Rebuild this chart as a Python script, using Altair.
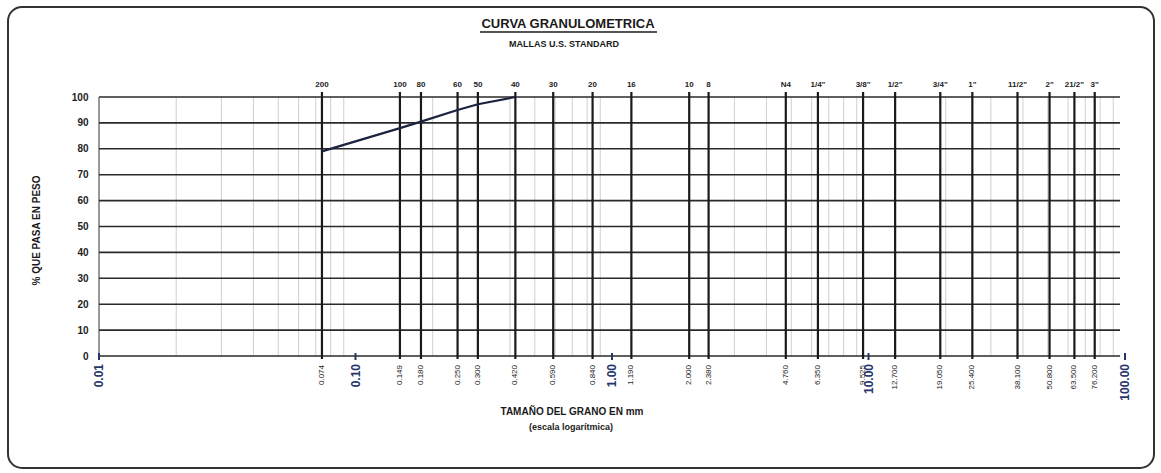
import altair as alt
import pandas as pd

W, H = 1026, 259
FONT = "Liberation Sans"

# ---- data ----
sieve_labels = ["200", "100", "80", "60", "50", "40", "30", "20", "16", "10", "8",
                "N4", "1/4\"", "3/8\"", "1/2\"", "3/4\"", "1\"", "11/2\"", "2\"", "21/2\"", "3\""]
sieve_mm = [0.074, 0.149, 0.180, 0.250, 0.300, 0.420, 0.590, 0.840, 1.190, 2.000, 2.380,
            4.760, 6.350, 9.525, 12.700, 19.050, 25.400, 38.100, 50.800, 63.500, 76.200]
mm_labels = ["0.074", "0.149", "0.180", "0.250", "0.300", "0.420", "0.590", "0.840", "1.190",
             "2.000", "2.380", "4.760", "6.350", "9.525", "12.700", "19.050", "25.400",
             "38.100", "50.800", "63.500", "76.200"]
minor_mm = [0.02, 0.03, 0.04, 0.05, 0.06, 0.07, 0.08, 0.09,
            0.2, 0.3, 0.4, 0.5, 0.6, 0.7, 0.8, 0.9,
            2, 3, 4, 5, 6, 7, 8, 9,
            20, 30, 40, 50, 60, 70, 80, 90]
decade_mm = [0.01, 0.1, 1, 10, 100]
decade_labels = ["0.01", "0.10", "1.00", "10.00", "100.00"]
y_ticks = [0, 10, 20, 30, 40, 50, 60, 70, 80, 90, 100]

curve_mm = [0.074, 0.149, 0.180, 0.250, 0.300, 0.420]
curve_pct = [79, 88, 90.5, 95, 97.2, 100]

# ---- scales ----
xs = alt.Scale(type="log", domain=[0.01, 100], nice=False)
ys = alt.Scale(domain=[0, 100], nice=False)
y_axis = alt.Axis(values=y_ticks, title=None, domain=False, ticks=False, grid=False,
                  labelPadding=11, labelFontSize=10, labelFontWeight="bold",
                  labelFont=FONT, labelColor="#222")

sieves = pd.DataFrame({"mm": sieve_mm, "lbl": sieve_labels, "mml": mm_labels})
minor = pd.DataFrame({"mm": minor_mm})
decades = pd.DataFrame({"mm": decade_mm, "lbl": decade_labels})
curve = pd.DataFrame({"mm": curve_mm, "pct": curve_pct})
hlines = pd.DataFrame({"p": y_ticks})

X = lambda: alt.X("mm:Q", scale=xs, axis=None)

minor_l = alt.Chart(minor).mark_rule(color="#cfcfcf", strokeWidth=1).encode(
    x=X(), y=alt.value(0), y2=alt.value(H))

hgrid = alt.Chart(hlines).mark_rule(color="#2a2a2a", strokeWidth=1.6).encode(
    y=alt.Y("p:Q", scale=ys, axis=y_axis),
    x=alt.value(0), x2=alt.value(W - 5))

left_edge = alt.Chart(decades).transform_filter("datum.mm == 0.01").mark_rule(
    color="#333", strokeWidth=1).encode(x=X(), y=alt.value(0), y2=alt.value(H))

sieve_l = alt.Chart(sieves).mark_rule(color="#1a1a1a", strokeWidth=2.2).encode(
    x=X(), y=alt.value(-5), y2=alt.value(H + 3))

decade_ticks = alt.Chart(decades).mark_rule(color="#27336b", strokeWidth=2).encode(
    x=X(), y=alt.value(H - 3), y2=alt.value(H + 4))

curve_l = alt.Chart(curve).mark_line(color="#1c2340", strokeWidth=2.2).encode(
    x=X(), y=alt.Y("pct:Q", scale=ys, axis=y_axis))

top_txt = alt.Chart(sieves).mark_text(font=FONT, fontSize=8, fontWeight="bold",
                                      baseline="middle", color="#222").encode(
    x=X(), y=alt.value(-12), text="lbl:N")

bot_txt = alt.Chart(sieves).mark_text(font=FONT, fontSize=8, angle=270, align="right",
                                      baseline="middle", color="#222").encode(
    x=X(), y=alt.value(H + 9), text="mml:N")

dec_txt = alt.Chart(decades).mark_text(font=FONT, fontSize=12, fontWeight="bold", angle=270,
                                       align="right", baseline="middle", color="#27336b").encode(
    x=X(), y=alt.value(H + 8), text="lbl:N")

title_df = pd.DataFrame({"t": ["CURVA GRANULOMETRICA"]})
title_t = alt.Chart(title_df).mark_text(font=FONT, fontSize=13, fontWeight="bold",
                                        color="#1a1a1a", baseline="middle").encode(
    x=alt.value(469), y=alt.value(-73), text="t:N")
underline = alt.Chart(title_df).mark_rule(color="#1a1a1a", strokeWidth=1.4).encode(
    x=alt.value(381), x2=alt.value(558), y=alt.value(-65))
sub_t = alt.Chart(pd.DataFrame({"t": ["MALLAS U.S. STANDARD"]})).mark_text(
    font=FONT, fontSize=9, fontWeight="bold", color="#1a1a1a", baseline="middle").encode(
    x=alt.value(465), y=alt.value(-53), text="t:N")

ytitle = alt.Chart(pd.DataFrame({"t": ["% QUE PASA EN PESO"]})).mark_text(
    font=FONT, fontSize=10, fontWeight="bold", angle=270, color="#1a1a1a", baseline="middle").encode(
    x=alt.value(-62), y=alt.value(H / 2 + 4), text="t:N")

xt1 = alt.Chart(pd.DataFrame({"t": ["TAMAÑO DEL GRANO EN mm"]})).mark_text(
    font=FONT, fontSize=10, fontWeight="bold", color="#1a1a1a", baseline="middle").encode(
    x=alt.value(473), y=alt.value(H + 56), text="t:N")
xt2 = alt.Chart(pd.DataFrame({"t": ["(escala logarítmica)"]})).mark_text(
    font=FONT, fontSize=9, fontWeight="bold", color="#1a1a1a", baseline="middle").encode(
    x=alt.value(472), y=alt.value(H + 71), text="t:N")

frame = alt.Chart(title_df).mark_rect(fillOpacity=0, stroke="#333", strokeWidth=2,
                                      cornerRadius=14).encode(
    x=alt.value(-91), x2=alt.value(1055), y=alt.value(-90), y2=alt.value(371))

chart = alt.layer(
    frame, minor_l, hgrid, left_edge, sieve_l, decade_ticks, curve_l,
    top_txt, bot_txt, dec_txt, title_t, underline, sub_t, ytitle, xt1, xt2
).properties(
    width=W, height=H, autosize="none",
    padding={"left": 99, "top": 97, "right": 36, "bottom": 117},
    background="white"
).configure_view(stroke=None)

chart.save("out.html", embed_options={"renderer": "svg", "actions": False})
